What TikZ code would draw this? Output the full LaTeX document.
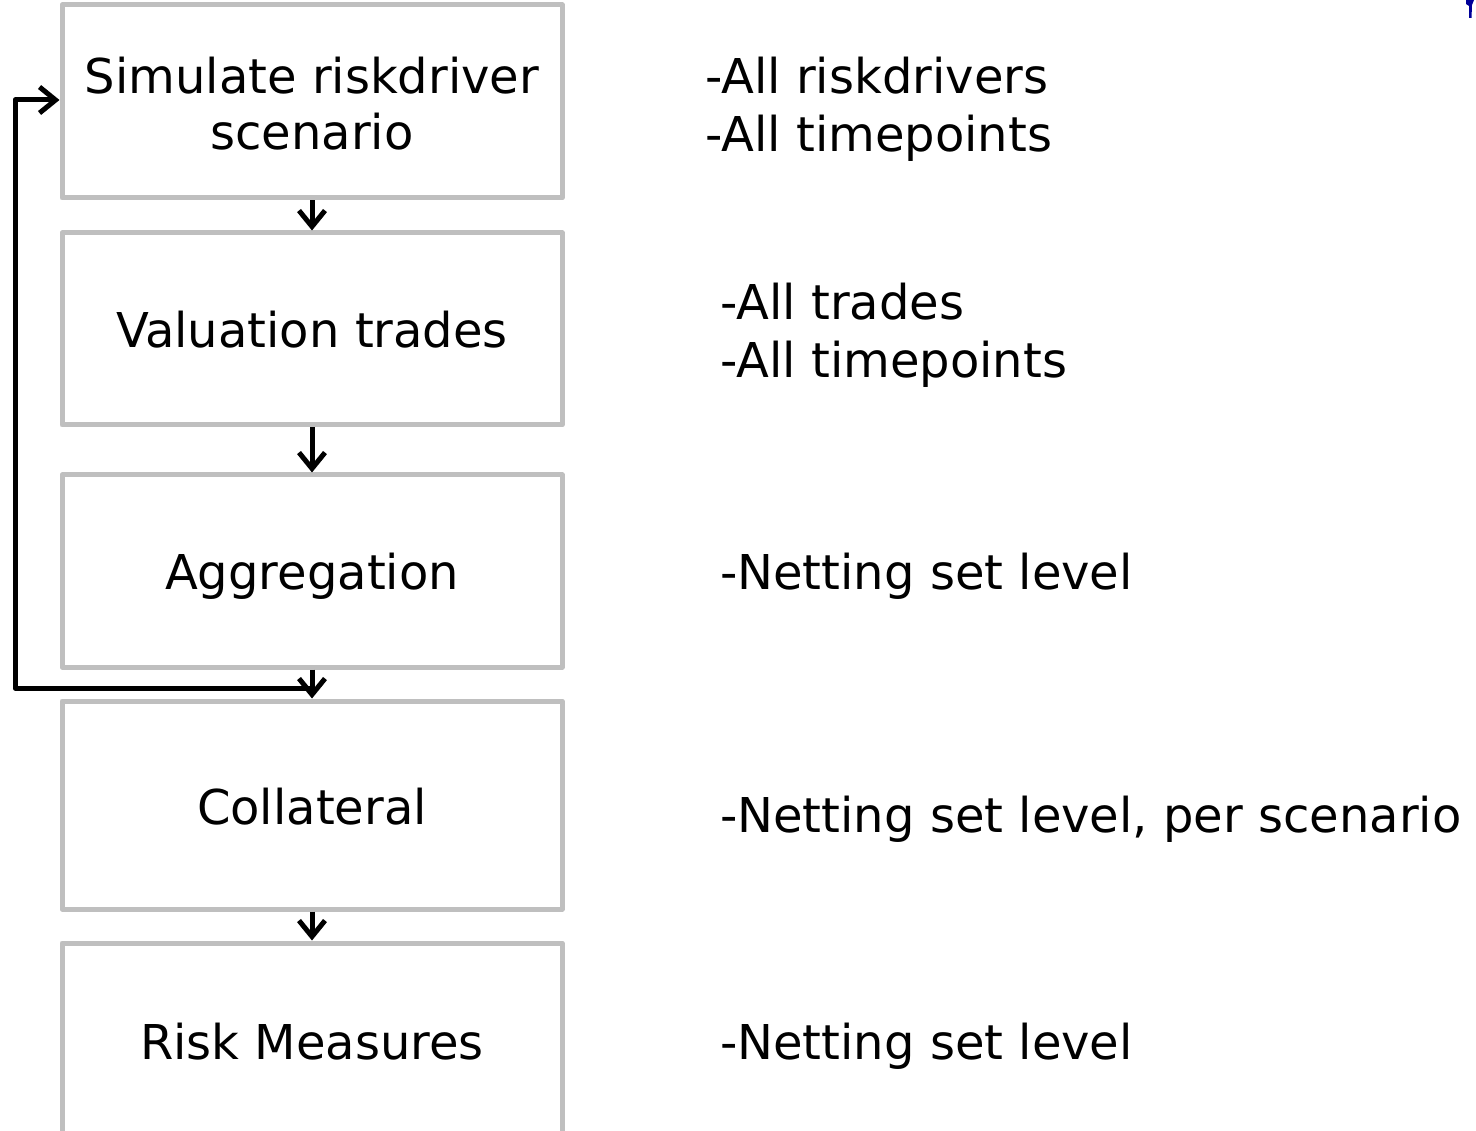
\documentclass[tikz,border=0pt]{standalone}
\usepackage{fontspec}
\setmainfont{DejaVu Sans}
\usetikzlibrary{arrows.meta}
\begin{document}
\begin{tikzpicture}[x=1pt,y=-1pt,
  box/.style={draw=black!25, line width=5pt, line join=round, minimum width=500pt, inner sep=0pt},
  lbl/.style={inner sep=0pt, align=center, font=\fontsize{48}{56}\selectfont},
  note/.style={anchor=west, inner sep=0pt, align=left, font=\fontsize{48}{58}\selectfont},
  arr/.style={draw=black, line width=5pt, -{Straight Barb[length=16pt,width=26pt]}}]
\useasboundingbox (0,0) rectangle (1476,1131);
\clip (0,0) rectangle (1476,1131);
\node[box, minimum height=193pt] (b1) at (312,101.5) {};
\node[box, minimum height=192pt] (b2) at (312,329) {};
\node[box, minimum height=192pt] (b3) at (312,571) {};
\node[box, minimum height=208pt] (b4) at (312,805) {};
\node[box, minimum height=210pt] (b5) at (312,1048) {};
\node[lbl] (l1) at (312,104) {Simulate riskdriver\\scenario};
\node[lbl] (l2) at (312,330) {Valuation trades};
\node[lbl] (l3) at (312,576) {Aggregation};
\node[lbl] (l4) at (312,807) {Collateral};
\node[lbl] (l5) at (312,1042) {Risk Measures};
\node[note] (t1) at (705,109) {-All riskdrivers\\-All timepoints};
\node[note] (t2) at (720,335) {-All trades\\-All timepoints};
\node[note] (t3) at (720,576) {-Netting set level};
\node[note] (t4) at (720,819) {-Netting set level, per scenario};
\node[note] (t5) at (720,1046) {-Netting set level};
\draw[arr] (b1.south) -- (b2.north);
\draw[arr] (b2.south) -- (b3.north);
\draw[arr] (b3.south) -- (b4.north);
\draw[arr] (b4.south) -- (b5.north);
\coordinate (j) at (313,688);
\coordinate (c1) at (15,688);
\coordinate (c2) at (15,100);
\draw[arr, line join=round] (j) -- (c1) -- (c2) -- (c2 -| b1.west);
\fill[blue!60!black] (1466,0) -- (1474,0) -- (1472,5) -- (1471.5,18) -- (1469,18) -- (1469,6) -- (1466,4) -- cycle;
\end{tikzpicture}
\end{document}
